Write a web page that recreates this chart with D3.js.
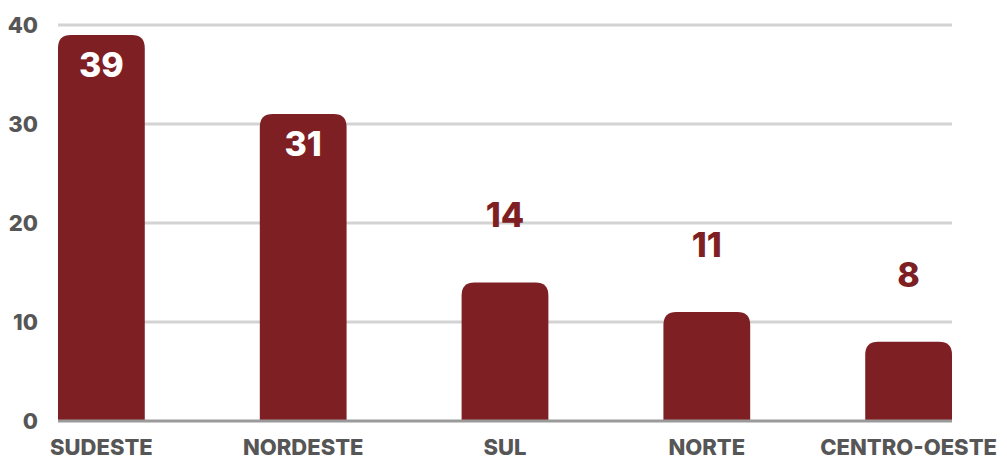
<!DOCTYPE html>
<html>
<head>
<meta charset="utf-8">
<script src="https://cdn.jsdelivr.net/npm/d3@7"></script>
<style>
  body { margin: 0; background: #fff; }
  text { font-family: Inter, "Noto Sans", sans-serif; font-weight: 800; }
</style>
</head>
<body>
<div id="vis"></div>
<script>
var regions = ["SUDESTE", "NORDESTE", "SUL", "NORTE", "CENTRO-OESTE"];
var counts = [39, 31, 14, 11, 8];
var yTicks = [0, 10, 20, 30, 40];

var width = 1007;
var height = 459;
var margin = { top: 25, left: 58, bottom: 38, right: 55 };

var barColor = "#7e1f24";
var textColor = "#565656";

var x = d3.scaleBand()
	.domain(regions)
	.range([margin.left, width - margin.right])
	.paddingInner(0.57)
	.paddingOuter(0);

var y = d3.scaleLinear()
	.domain([0, 40])
	.range([height - margin.bottom, margin.top]);

var svg = d3.select("#vis").append("svg")
	.attr("width", width)
	.attr("height", height);

// grid lines
svg.append("g")
	.selectAll("line")
	.data(yTicks.filter(function (d) { return d > 0; }))
	.enter().append("line")
	.attr("x1", margin.left)
	.attr("x2", width - margin.right)
	.attr("y1", function (d) { return y(d); })
	.attr("y2", function (d) { return y(d); })
	.attr("stroke", "#d3d3d3")
	.attr("stroke-width", 3);

// y tick labels
svg.append("g")
	.selectAll("text")
	.data(yTicks)
	.enter().append("text")
	.attr("x", 38)
	.attr("y", function (d) { return y(d); })
	.attr("dy", "0.36em")
	.attr("text-anchor", "end")
	.attr("fill", textColor)
	.style("font-size", "22px")
	.text(function (d) { return d; });

// bars with rounded top corners
var r = 13;
function barPath(d, i) {
	var x0 = x(regions[i]), w = x.bandwidth();
	var y0 = y(d), yb = y(0);
	return "M" + x0 + "," + yb +
		"V" + (y0 + r) +
		"Q" + x0 + "," + y0 + " " + (x0 + r) + "," + y0 +
		"H" + (x0 + w - r) +
		"Q" + (x0 + w) + "," + y0 + " " + (x0 + w) + "," + (y0 + r) +
		"V" + yb + "Z";
}

svg.append("g")
	.selectAll("path")
	.data(counts)
	.enter().append("path")
	.attr("d", barPath)
	.attr("fill", barColor);

// baseline
svg.append("line")
	.attr("x1", margin.left)
	.attr("x2", width - margin.right)
	.attr("y1", y(0))
	.attr("y2", y(0))
	.attr("stroke", "#9a9a9a")
	.attr("stroke-width", 3);

// value labels: inside the tall bars, above the short ones
svg.append("g")
	.selectAll("text")
	.data(counts)
	.enter().append("text")
	.attr("x", function (d, i) { return x(regions[i]) + x.bandwidth() / 2; })
	.attr("y", function (d) { return d > 20 ? y(d) + 42 : y(d) - 55; })
	.attr("text-anchor", "middle")
	.attr("fill", function (d) { return d > 20 ? "#fff" : barColor; })
	.style("font-size", "34px")
	.text(function (d) { return d; });

// category labels
svg.append("g")
	.selectAll("text")
	.data(regions)
	.enter().append("text")
	.attr("x", function (d) { return x(d) + x.bandwidth() / 2; })
	.attr("y", 455)
	.attr("text-anchor", "middle")
	.attr("fill", textColor)
	.style("font-size", "22px")
	.text(function (d) { return d; });
</script>
</body>
</html>
